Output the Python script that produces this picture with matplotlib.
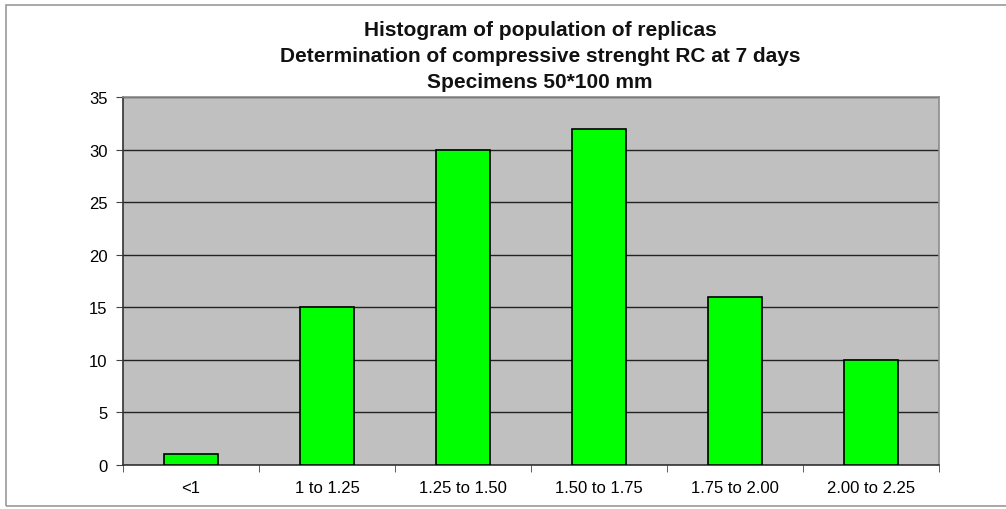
import matplotlib
matplotlib.use("Agg")
import matplotlib.pyplot as plt
import numpy as np
from matplotlib.patches import Rectangle
from matplotlib.ticker import FixedLocator

plt.rcParams["font.family"] = ["Liberation Sans", "DejaVu Sans"]

categories = ["<1", "1 to 1.25", "1.25 to 1.50", "1.50 to 1.75", "1.75 to 2.00", "2.00 to 2.25"]
counts = [1, 15, 30, 32, 16, 10]
title_lines = ["Histogram of population of replicas",
               "Determination of compressive strenght RC at 7 days",
               "Specimens 50*100 mm"]

W, H = 1006, 510
fig = plt.figure(figsize=(W / 100, H / 100), dpi=100)
fig.patch.set_facecolor("white")
# outer frame of the chart object (left, top, bottom visible)
fig.add_artist(Rectangle((6 / W, 1 - 507 / H), 1.05, (507 - 6) / H, transform=fig.transFigure,
                         fill=False, edgecolor="#9a9a9a", lw=1.2))

ax = fig.add_axes([123 / W, 1 - 466 / H, (939 - 123) / W, (466 - 98) / H])
ax.set_facecolor("#c0c0c0")
x = np.arange(len(categories))
ax.bar(x, counts, width=0.40, color="#00ff00", edgecolor="black", lw=1.2, zorder=3)
ax.set_xlim(-0.5, len(categories) - 0.5)
ax.set_ylim(0, 35)
ax.set_yticks(range(0, 36, 5))
ax.yaxis.grid(True, color="#222222", lw=1.0, zorder=1)
ax.set_axisbelow(True)
ax.set_xticks(x)
ax.set_xticklabels(categories, fontsize=12)
ax.tick_params(axis="x", length=0, pad=11)
ax.xaxis.set_minor_locator(FixedLocator(np.arange(-0.5, len(categories), 1.0)))
ax.tick_params(axis="x", which="minor", length=5, color="#444444")
ax.tick_params(axis="y", labelsize=12, length=5, color="#444444", pad=6)
for s in ["left", "bottom"]:
    ax.spines[s].set_color("#333333")
    ax.spines[s].set_linewidth(1.2)
for s in ["top", "right"]:
    ax.spines[s].set_color("#8c8c8c")
    ax.spines[s].set_linewidth(1.2)

for i, (line, yc) in enumerate(zip(title_lines, [31, 57, 82])):
    fig.text(540 / W, 1 - yc / H, line, ha="center", va="center",
             fontsize=15, fontweight="bold", color="#111111")

fig.savefig("out.png", dpi=100)
